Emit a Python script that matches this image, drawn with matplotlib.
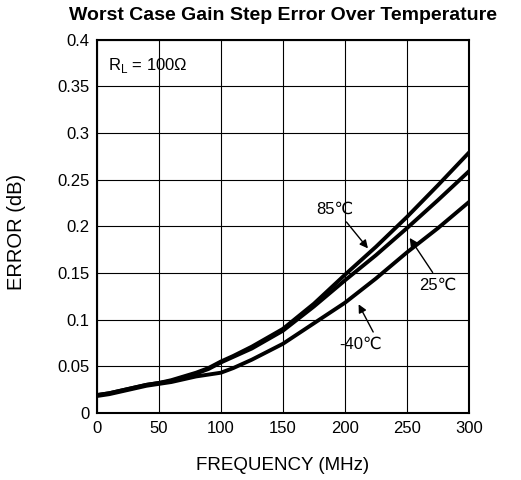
import numpy as np
import matplotlib
matplotlib.use("Agg")
import matplotlib.pyplot as plt

plt.rcParams['font.family'] = ['Liberation Sans', 'DejaVu Sans']

freq = [0, 10, 20, 30, 40, 50, 60, 70, 80, 90, 100, 110, 125, 150, 175, 200, 225, 250, 275, 300]
err_85 = [0.019, 0.021, 0.024, 0.027, 0.030, 0.032, 0.035, 0.039, 0.043, 0.048, 0.055, 0.061,
          0.071, 0.090, 0.117, 0.148, 0.178, 0.210, 0.244, 0.279]
err_25 = [0.019, 0.021, 0.024, 0.027, 0.030, 0.032, 0.034, 0.038, 0.042, 0.047, 0.054, 0.060,
          0.069, 0.088, 0.114, 0.142, 0.169, 0.198, 0.228, 0.259]
err_m40 = [0.018, 0.020, 0.023, 0.026, 0.029, 0.031, 0.033, 0.036, 0.039, 0.041, 0.043, 0.048,
           0.057, 0.074, 0.096, 0.118, 0.144, 0.172, 0.198, 0.226]

fig = plt.figure(figsize=(5.21, 4.8), dpi=100)
ax = fig.add_axes([0.186, 0.140, 0.714, 0.777])

for e in (err_85, err_25, err_m40):
    ax.plot(freq, e, color='black', lw=2.8, solid_joinstyle='round')

ax.set_xlim(0, 300)
ax.set_ylim(0, 0.4)
ax.set_xticks(np.arange(0, 301, 50))
ax.set_yticks(np.arange(0, 0.41, 0.05))
ax.set_yticklabels(['0', '0.05', '0.1', '0.15', '0.2', '0.25', '0.3', '0.35', '0.4'])
ax.grid(True, color='black', lw=0.8)
ax.tick_params(length=0, labelsize=12)
ax.tick_params(axis='x', pad=6)
ax.tick_params(axis='y', pad=5.5)
for s in ax.spines.values():
    s.set_linewidth(1.5)

ax.set_title('Worst Case Gain Step Error Over Temperature', fontsize=14, fontweight='bold', pad=14)
ax.set_xlabel('FREQUENCY (MHz)', fontsize=13.5, labelpad=15)
ax.set_ylabel('ERROR (dB)', fontsize=14.5)
ax.yaxis.set_label_coords(-0.19, 0.485)

ax.text(9, 0.372, r'R$_\mathregular{L}$ = 100Ω', fontsize=12, va='center')

def arrow(rel):
    return dict(arrowstyle='-|>', color='black', lw=1.0, mutation_scale=12, relpos=rel)

ax.annotate('85℃', xy=(220, 0.174), xytext=(192, 0.218), fontsize=12,
            ha='center', va='center', arrowprops=arrow((0.7, 0.0)))
ax.annotate('25℃', xy=(251, 0.190), xytext=(275, 0.137), fontsize=12,
            ha='center', va='center', arrowprops=arrow((0.45, 1.0)))
ax.annotate('-40℃', xy=(210, 0.119), xytext=(213, 0.073), fontsize=12,
            ha='center', va='center', arrowprops=arrow((0.85, 1.0)))

fig.savefig('out.png', dpi=100)
